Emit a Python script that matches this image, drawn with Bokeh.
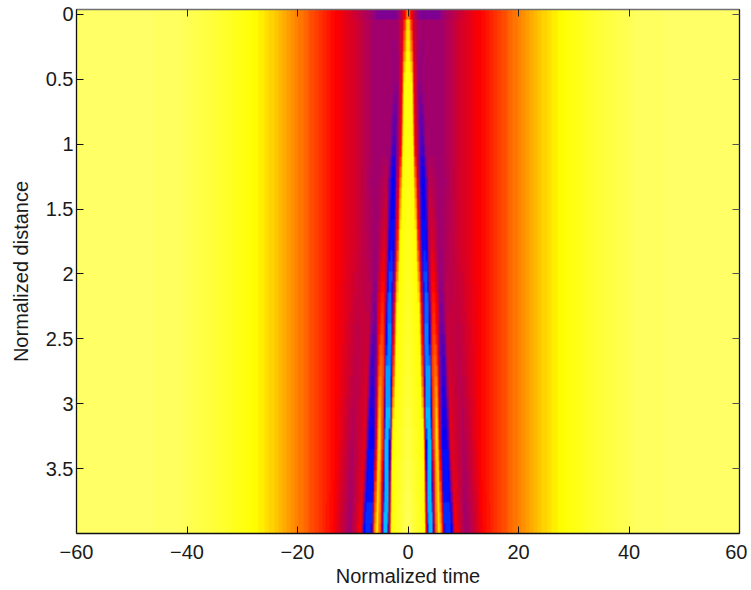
import numpy as np
from bokeh.plotting import figure
from bokeh.models import Range1d, LinearAxis, FixedTicker, LinearColorMapper
from bokeh.embed import file_html
from bokeh.resources import INLINE

x_ticks = [-60, -40, -20, 0, 20, 40, 60]
x_tick_labels = ["\u221260", "\u221240", "\u221220", "0", "20", "40", "60"]
y_ticks = [0, 0.5, 1, 1.5, 2, 2.5, 3, 3.5]
y_tick_labels = ["0", "0.5", "1", "1.5", "2", "2.5", "3", "3.5"]

# Colour scale: level -> colour
scale_levels = [0.0, 0.12, 0.28, 0.38, 0.45, 0.60, 0.75, 1.0]
scale_r = [0, 0, 150, 205, 255, 255, 255, 255]
scale_g = [215, 0, 0, 0, 0, 128, 255, 255]
scale_b = [255, 255, 125, 50, 0, 0, 0, 102]

# Pulse profile at several distances (|time| knots, level)
distances = [0.0, 0.08, 0.5, 1.0, 1.28, 1.8, 2.28, 2.8, 3.28, 3.96]
times = [
    [0, 0.4, 0.8, 2.0, 3.0, 3.5, 4.0, 4.5, 5.0, 5.5, 6.0, 9.0, 13.0],
    [0, 0.4, 0.8, 2.0, 3.0, 3.5, 4.0, 4.5, 5.0, 5.5, 6.0, 9.0, 13.0],
    [0, 0.6, 1.1, 1.8, 2.4, 3.2, 4.0, 4.5, 5.0, 5.5, 6.0, 9.0, 13.0],
    [0, 0.85, 1.3, 2.2, 2.6, 3.4, 4.0, 4.5, 5.0, 5.5, 6.0, 9.0, 13.0],
    [0, 1.05, 1.6, 2.4, 3.0, 3.8, 4.2, 4.7, 5.2, 5.7, 6.2, 9.0, 13.0],
    [0, 1.45, 2.0, 2.7, 3.3, 4.0, 4.4, 5.0, 5.5, 6.0, 6.6, 9.0, 13.0],
    [0, 1.9, 2.5, 3.05, 3.7, 4.2, 4.7, 5.3, 5.8, 6.4, 7.0, 9.0, 13.0],
    [0, 2.3, 2.8, 3.2, 3.9, 4.4, 5.0, 5.6, 6.0, 6.7, 7.4, 9.5, 13.0],
    [0, 2.8, 3.1, 3.45, 4.1, 4.6, 5.2, 5.8, 6.1, 7.0, 7.8, 10.0, 13.0],
    [0, 3.1, 3.35, 3.7, 4.4, 4.9, 5.6, 6.4, 6.7, 7.8, 8.6, 10.5, 13.5],
]
levels = [
    [0.62, 0.50, 0.40, 0.25, 0.25, 0.25, 0.25, 0.25, 0.25, 0.25, 0.28, 0.37, 0.45],
    [0.72, 0.62, 0.42, 0.30, 0.30, 0.30, 0.30, 0.30, 0.30, 0.30, 0.30, 0.38, 0.45],
    [0.78, 0.75, 0.45, 0.29, 0.29, 0.30, 0.30, 0.30, 0.30, 0.30, 0.30, 0.38, 0.45],
    [0.80, 0.75, 0.45, 0.20, 0.20, 0.30, 0.30, 0.30, 0.30, 0.30, 0.30, 0.38, 0.45],
    [0.80, 0.75, 0.45, 0.14, 0.14, 0.34, 0.35, 0.33, 0.31, 0.30, 0.30, 0.38, 0.45],
    [0.82, 0.75, 0.45, 0.11, 0.11, 0.40, 0.42, 0.36, 0.30, 0.30, 0.32, 0.38, 0.45],
    [0.85, 0.75, 0.45, 0.07, 0.07, 0.44, 0.50, 0.42, 0.26, 0.26, 0.36, 0.36, 0.45],
    [0.88, 0.75, 0.45, 0.04, 0.04, 0.50, 0.62, 0.40, 0.18, 0.18, 0.40, 0.35, 0.45],
    [0.92, 0.75, 0.45, 0.02, 0.02, 0.50, 0.72, 0.40, 0.13, 0.13, 0.42, 0.33, 0.45],
    [0.97, 0.75, 0.45, 0.02, 0.02, 0.50, 0.77, 0.40, 0.10, 0.10, 0.45, 0.30, 0.45],
]
# Slowly varying wings, same at all distances
wing_times = [16, 20, 25, 28, 34, 42, 60]
wing_levels = [0.51, 0.60, 0.70, 0.75, 0.87, 0.98, 1.0]

TOP, BOTTOM = -0.0385, 4.0
N_ROWS, N_COLS = 50, 480

T = np.array(times, float)
V = np.array(levels, float)
row_h = (BOTTOM - TOP) / N_ROWS
row_d = TOP + row_h * (np.arange(N_ROWS) + 0.5)
col_t = -60 + 120 * (np.arange(N_COLS) + 0.5) / N_COLS

field = np.zeros((N_ROWS, N_COLS))
for i, d in enumerate(row_d):
    kt = [np.interp(d, distances, T[:, k]) for k in range(T.shape[1])]
    kv = [np.interp(d, distances, V[:, k]) for k in range(V.shape[1])]
    field[i] = np.interp(np.abs(col_t), kt + wing_times, kv + wing_levels)

lv = np.linspace(0, 1, 64)
palette = [
    "#%02x%02x%02x" % (int(np.interp(a, scale_levels, scale_r)),
                        int(np.interp(a, scale_levels, scale_g)),
                        int(np.interp(a, scale_levels, scale_b)))
    for a in lv
]
mapper = LinearColorMapper(palette=palette, low=0, high=1)

p = figure(
    frame_width=663, frame_height=524,
    x_range=Range1d(-60, 60), y_range=Range1d(BOTTOM, TOP),
    output_backend="svg", toolbar_location=None,
    min_border_left=76, min_border_right=8, min_border_top=9, min_border_bottom=50,
    x_axis_label="Normalized time", y_axis_label="Normalized distance",
)
p.grid.visible = False
p.outline_line_color = None
p.background_fill_color = "#ffffff"
p.image(image=[field], x=-60, y=TOP, dw=120, dh=BOTTOM - TOP, color_mapper=mapper)

FONT = "Liberation Sans"
for ax, ticks, labels in ((p.xaxis[0], x_ticks, x_tick_labels), (p.yaxis[0], y_ticks, y_tick_labels)):
    ax.ticker = FixedTicker(ticks=ticks)
    ax.major_label_overrides = dict(zip(ticks, labels))
    ax.major_tick_in = 7
    ax.major_tick_out = 0
    ax.minor_tick_in = 0
    ax.minor_tick_out = 0
    ax.major_tick_line_color = "#111111"
    ax.axis_line_color = "#111111"
    ax.axis_line_width = 1.3
    ax.major_label_text_font = FONT
    ax.major_label_text_font_size = "20px"
    ax.major_label_text_color = "#1a1a1a"
    ax.axis_label_text_font = FONT
    ax.axis_label_text_font_size = "20px"
    ax.axis_label_text_font_style = "normal"
    ax.axis_label_text_color = "#1a1a1a"
p.xaxis[0].major_label_standoff = 11
p.xaxis[0].axis_label_standoff = 3
p.yaxis[0].major_label_standoff = 3
p.yaxis[0].major_label_orientation = "horizontal"
p.yaxis[0].axis_label_standoff = 11

top_axis = LinearAxis(ticker=FixedTicker(ticks=x_ticks), major_label_overrides={t: "" for t in x_ticks},
                      major_tick_in=7, major_tick_out=0, minor_tick_in=0, minor_tick_out=0,
                      major_label_standoff=0, axis_line_color="#707070", axis_line_width=1.3,
                      major_tick_line_color="#222222")
right_axis = LinearAxis(ticker=FixedTicker(ticks=y_ticks), major_label_overrides={t: "" for t in y_ticks},
                        major_tick_in=7, major_tick_out=0, minor_tick_in=0, minor_tick_out=0,
                        major_label_standoff=0, axis_line_color="#111111", axis_line_width=1.3,
                        major_tick_line_color="#555555")
p.add_layout(top_axis, "above")
p.add_layout(right_axis, "right")

open("out.html", "w").write(file_html(p, INLINE))
